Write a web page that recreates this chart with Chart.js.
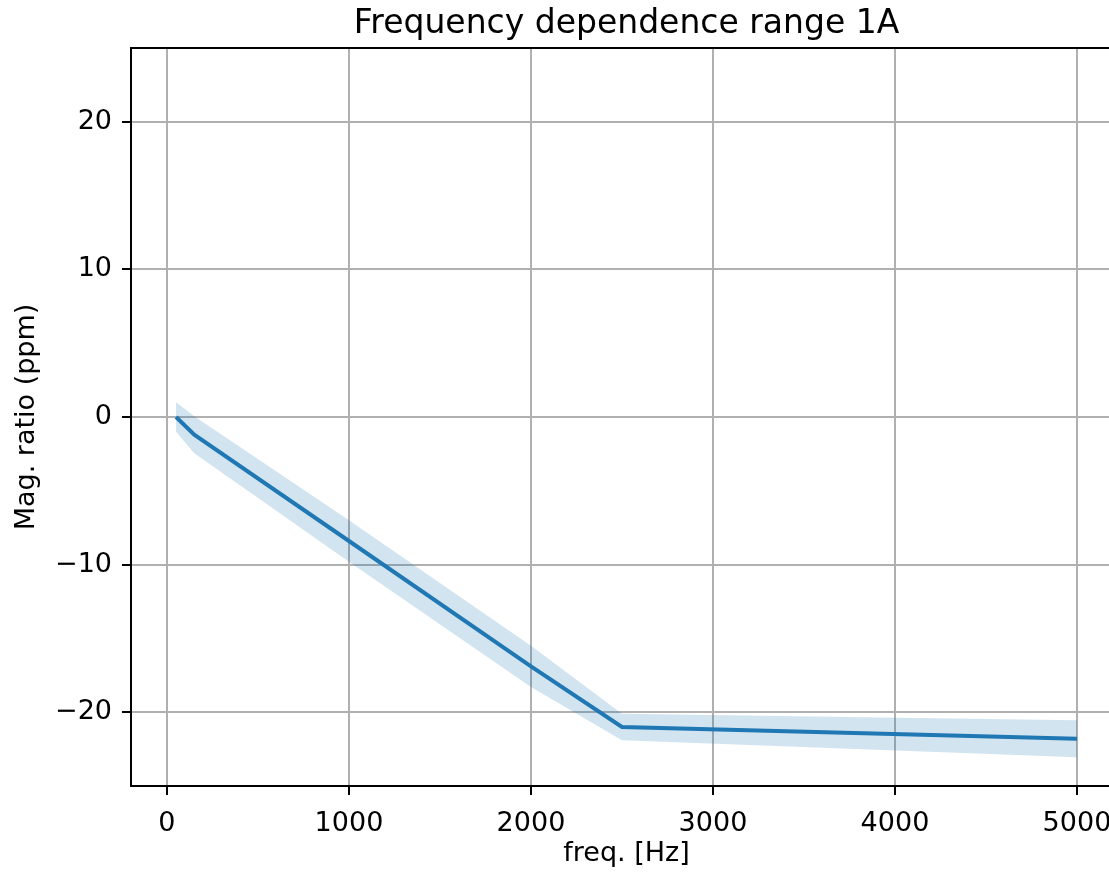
<!DOCTYPE html>
<html>
<head>
<meta charset="utf-8">
<script src="https://cdn.jsdelivr.net/npm/chart.js@4/dist/chart.umd.min.js"></script>
<style>
  html, body { margin: 0; padding: 0; background: #fff; overflow: hidden; }
  #wrap { width: 1109px; height: 872px; }
</style>
</head>
<body>
<div id="wrap"><canvas id="chart" width="1109" height="872"></canvas></div>
<script>
const freqs = [50, 150, 1000, 2000, 2500, 5000];
const ratio = [0, -1.2, -8.4, -16.9, -21.0, -21.8];
const spread = [1.0, 1.25, 1.4, 1.4, 0.9, 1.25];

const xTicks = [0, 1000, 2000, 3000, 4000, 5000];
const yTicks = [-20, -10, 0, 10, 20];

const titleText = "Frequency dependence range 1A";
const xLabel = "freq. [Hz]";
const yLabel = "Mag. ratio (ppm)";

const FONT = "'DejaVu Sans', sans-serif";
const BLUE = "#1f77b4";
const BAND = "rgba(31, 119, 180, 0.2)";
const GRID = "#b0b0b0";

const linePts = freqs.map((f, i) => ({ x: f, y: ratio[i] }));
const upperPts = freqs.map((f, i) => ({ x: f, y: ratio[i] + spread[i] }));
const lowerPts = freqs.map((f, i) => ({ x: f, y: ratio[i] - spread[i] }));

const fmtMinus = v => String(v).replace("-", "\u2212");

// grid on top of the band, spines, title and x label
// (the original plot runs past the right edge, so text is centred at 626.5)
const mplLook = {
    id: "mplLook",
    beforeDatasetsDraw(chart) {
        const area = chart.chartArea;
        chart.scales.x.drawGrid(area);
        chart.scales.y.drawGrid(area);
    },
    afterDraw(chart) {
        const ctx = chart.ctx;
        const a = chart.chartArea;
        ctx.save();
        ctx.strokeStyle = "#000";
        ctx.lineWidth = 2;
        ctx.beginPath();
        ctx.moveTo(a.right + 2, a.top);
        ctx.lineTo(a.left, a.top);
        ctx.lineTo(a.left, a.bottom);
        ctx.lineTo(a.right + 2, a.bottom);
        ctx.stroke();
        ctx.fillStyle = "#000";
        ctx.textAlign = "center";
        ctx.font = "33px " + FONT;
        ctx.textBaseline = "alphabetic";
        ctx.fillText(titleText, 626.5, 33);
        ctx.font = "27px " + FONT;
        ctx.textBaseline = "middle";
        ctx.fillText(xLabel, 626.5, 854);
        ctx.restore();
    }
};

new Chart(document.getElementById("chart"), {
    type: "line",
    data: {
        datasets: [
            {
                data: linePts,
                borderColor: BLUE,
                borderWidth: 4,
                pointRadius: 0,
                fill: false,
                tension: 0
            },
            {
                data: upperPts,
                borderWidth: 0,
                pointRadius: 0,
                fill: false
            },
            {
                data: lowerPts,
                borderWidth: 0,
                pointRadius: 0,
                backgroundColor: BAND,
                fill: "-1"
            }
        ]
    },
    options: {
        responsive: false,
        animation: false,
        devicePixelRatio: 1,
        layout: { padding: { left: 0, top: 48, right: 0, bottom: 0 } },
        plugins: {
            legend: { display: false },
            title: { display: false },
            tooltip: { enabled: false }
        },
        scales: {
            x: {
                type: "linear",
                min: -197.5,
                max: 5176,
                afterBuildTicks: s => { s.ticks = xTicks.map(v => ({ value: v })); },
                afterFit: s => {
                    s.height = 86;
                    s.paddingLeft = 0;
                    s.paddingRight = 0;
                },
                border: { display: false },
                grid: {
                    color: GRID,
                    lineWidth: 2,
                    tickColor: "#000",
                    tickWidth: 2,
                    tickLength: 9
                },
                ticks: {
                    color: "#000",
                    font: { family: FONT, size: 27 },
                    padding: 13,
                    maxRotation: 0,
                    callback: v => fmtMinus(v)
                },
                title: { display: false }
            },
            y: {
                type: "linear",
                min: -25,
                max: 25,
                afterBuildTicks: s => { s.ticks = yTicks.map(v => ({ value: v })); },
                afterFit: s => { s.width = 131; },
                border: { display: false },
                grid: {
                    color: GRID,
                    lineWidth: 2,
                    tickColor: "#000",
                    tickWidth: 2,
                    tickLength: 9
                },
                ticks: {
                    color: "#000",
                    font: { family: FONT, size: 27 },
                    padding: 10,
                    callback: v => fmtMinus(v)
                },
                title: {
                    display: true,
                    text: yLabel,
                    color: "#000",
                    font: { family: FONT, size: 27 },
                    padding: { top: 11, bottom: 0 }
                }
            }
        }
    },
    plugins: [mplLook]
});
</script>
</body>
</html>
